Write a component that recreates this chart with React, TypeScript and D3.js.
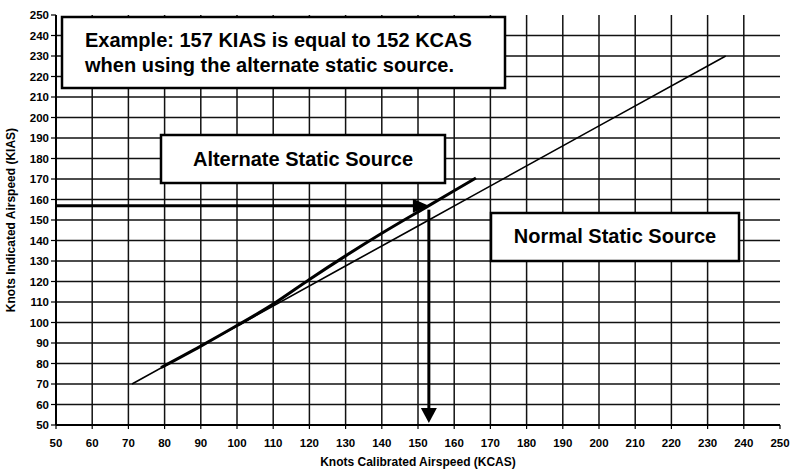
import * as d3 from "d3";

// KCAS (x) and KIAS (y) tick labels
const xTicks = [50, 60, 70, 80, 90, 100, 110, 120, 130, 140, 150, 160, 170, 180, 190, 200, 210, 220, 230, 240, 250];
const yTicks = [50, 60, 70, 80, 90, 100, 110, 120, 130, 140, 150, 160, 170, 180, 190, 200, 210, 220, 230, 240, 250];

// normal static source (thin line)
const normalKcas = [71, 100, 150, 200, 235];
const normalKias = [70, 98.3, 147.1, 195.9, 230];

// alternate static source (thick line)
const altKcas = [79, 90, 100, 110, 120, 130, 140, 153, 166];
const altKias = [78, 88.5, 98.5, 109, 121, 132.5, 143.5, 157, 170.5];

// worked example
const exampleKias = 157;
const exampleKcas = 153;

const W = 792, H = 469;
const font = "'Liberation Sans', Arial, sans-serif";

export default function App() {
  const x = d3.scaleLinear().domain([50, 250]).range([56, 780]);
  const y = d3.scaleLinear().domain([50, 250]).range([425, 15]);

  const line = d3.line<[number, number]>().x(d => x(d[0])).y(d => y(d[1])).curve(d3.curveMonotoneX);
  const normal = normalKcas.map((k, i) => [k, normalKias[i]] as [number, number]);
  const alt = altKcas.map((k, i) => [k, altKias[i]] as [number, number]);

  const ax = x(exampleKcas), ay = y(exampleKias);
  const bottom = y(50);

  return (
    <svg width={W} height={H} style={{ position: "absolute", left: 0, top: 0, background: "#fff" }}>
      {/* grid */}
      <g stroke="#111" strokeWidth={1.5}>
        {xTicks.filter(t => t > 50 && t < 250).map(t => (
          <line key={"v" + t} x1={x(t)} x2={x(t)} y1={y(250)} y2={bottom} />
        ))}
        {yTicks.filter(t => t > 50 && t < 250).map(t => (
          <line key={"h" + t} x1={x(50)} x2={x(250)} y1={y(t)} y2={y(t)} />
        ))}
      </g>
      {/* axes */}
      <g stroke="#000" strokeWidth={2}>
        <line x1={x(50)} x2={x(50)} y1={y(250)} y2={bottom} />
        <line x1={x(50)} x2={x(250)} y1={bottom} y2={bottom} />
        {yTicks.map(t => <line key={"yt" + t} x1={x(50) - 5} x2={x(50)} y1={y(t)} y2={y(t)} strokeWidth={1.2} />)}
        {xTicks.map(t => <line key={"xt" + t} x1={x(t)} x2={x(t)} y1={bottom} y2={bottom + 4} strokeWidth={1.2} />)}
      </g>
      <g fontFamily={font} fontWeight="bold" fontSize={11.5} fill="#000">
        {yTicks.map(t => (
          <text key={"yl" + t} x={x(50) - 7} y={y(t)} dy="0.35em" textAnchor="end">{t}</text>
        ))}
        {xTicks.map(t => (
          <text key={"xl" + t} x={x(t)} y={447} textAnchor="middle">{t}</text>
        ))}
      </g>
      <text x={(x(50) + x(250)) / 2} y={466} textAnchor="middle" fontFamily={font} fontWeight="bold" fontSize={12}>
        Knots Calibrated Airspeed (KCAS)
      </text>
      <text transform={`translate(15,${(y(50) + y(250)) / 2}) rotate(-90)`} textAnchor="middle" fontFamily={font} fontWeight="bold" fontSize={12}>
        Knots Indicated Airspeed (KIAS)
      </text>

      {/* curves */}
      <path d={line(normal) || ""} fill="none" stroke="#000" strokeWidth={1.6} />
      <path d={line(alt) || ""} fill="none" stroke="#000" strokeWidth={3} />

      {/* example arrows */}
      <line x1={x(50)} x2={ax - 14} y1={ay} y2={ay} stroke="#000" strokeWidth={3} />
      <path d={`M${ax},${ay} L${ax - 16},${ay - 7} L${ax - 16},${ay + 7} Z`} fill="#000" />
      <line x1={ax} x2={ax} y1={ay + 4} y2={bottom - 14} stroke="#000" strokeWidth={3} />
      <path d={`M${ax},${bottom - 2} L${ax - 8},${bottom - 17} L${ax + 8},${bottom - 17} Z`} fill="#000" />

      {/* annotation boxes */}
      <g fontFamily={font} fontWeight="bold" fontSize={20} fill="#000">
        <rect x={62} y={17} width={443} height={71} fill="#fff" stroke="#000" strokeWidth={2.5} />
        <text x={85} y={47}>Example: 157 KIAS is equal to 152 KCAS</text>
        <text x={85} y={72}>when using the alternate static source.</text>

        <rect x={161} y={135} width={284} height={48} fill="#fff" stroke="#000" strokeWidth={2.5} />
        <text x={303} y={166} textAnchor="middle">Alternate Static Source</text>

        <rect x={491} y={213} width={248} height={48} fill="#fff" stroke="#000" strokeWidth={2.5} />
        <text x={615} y={243} textAnchor="middle">Normal Static Source</text>
      </g>
    </svg>
  );
}
